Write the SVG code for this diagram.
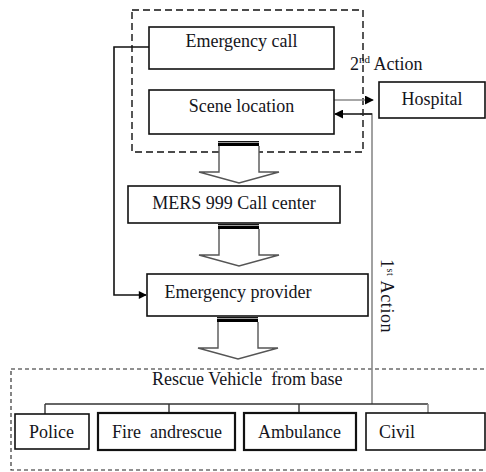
<svg xmlns="http://www.w3.org/2000/svg" width="486" height="472" viewBox="0 0 486 472">
  <style>
    .box { fill: #fff; stroke: #111; stroke-width: 1.6; }
    .thick { stroke-width: 2.2; }
    .lbl { font-family: "Liberation Serif", "Times New Roman", serif; font-size: 18px; fill: #151520; }
    .mid { text-anchor: middle; }
    .dash1 { fill: none; stroke: #111; stroke-width: 1.4; stroke-dasharray: 7 4; }
    .dash2 { fill: none; stroke: #222; stroke-width: 1.1; stroke-dasharray: 4 3; }
    .wire { fill: none; stroke: #111; stroke-width: 1.6; }
    .grey { fill: none; stroke: #8a8a8a; stroke-width: 1.6; }
    .bus { fill: none; stroke: #333; stroke-width: 1.4; }
    .block { fill: #fff; stroke: #555; stroke-width: 1.4; }
  </style>
  <defs>
    <marker id="head" viewBox="0 0 10 10" refX="9" refY="5" markerWidth="9" markerHeight="8" markerUnits="userSpaceOnUse" orient="auto">
      <path d="M0,0 L10,5 L0,10 z" fill="#000"/>
    </marker>
    <marker id="headL" viewBox="0 0 10 10" refX="9" refY="5" markerWidth="9" markerHeight="9" markerUnits="userSpaceOnUse" orient="auto">
      <path d="M0,0 L10,5 L0,10 z" fill="#000"/>
    </marker>
    <!-- hollow block arrow, drawn with its bar at the origin -->
    <g id="blockArrow">
      <path class="block" d="M1,5 L1,31 L-19,31 L21,42 L61,31 L41,31 L41,5"/>
      <rect x="0" y="0" width="41" height="5" fill="#000"/>
      <line x1="0" y1="1.4" x2="41" y2="1.4" stroke="#fff" stroke-width="0.7"/>
    </g>
  </defs>

  <!-- dashed groupings -->
  <rect class="dash1" x="132" y="10" width="231" height="142"/>
  <rect class="dash2" x="11" y="369" width="490" height="101"/>

  <g id="connectors">
    <!-- emergency call straight to the provider -->
    <polyline class="wire" points="149,47 114,47 114,295 146,295" marker-end="url(#head)"/>
    <!-- scene location to hospital (2nd action) -->
    <line class="grey" x1="334" y1="100" x2="373" y2="100" marker-end="url(#headL)"/>
    <!-- rescue vehicles back to the scene (1st action) -->
    <polyline class="grey" points="372,404 372,114 360,114"/>
    <line class="wire" x1="372" y1="114" x2="335" y2="114" marker-end="url(#headL)"/>
    <!-- vehicle bus -->
    <line class="bus" x1="45" y1="404" x2="428" y2="404"/>
    <line class="bus" x1="45" y1="404" x2="45" y2="414"/>
    <line class="bus" x1="169" y1="404" x2="169" y2="413"/>
    <line class="bus" x1="299" y1="404" x2="299" y2="413"/>
    <line class="grey" x1="428" y1="404" x2="428" y2="413" stroke-width="1.3"/>
    <!-- block arrows -->
    <use href="#blockArrow" x="218" y="141"/>
    <use href="#blockArrow" x="218" y="224"/>
    <use href="#blockArrow" x="217" y="317"/>
  </g>

  <g id="emergency-call">
    <rect class="box" x="149" y="27" width="185" height="42"/>
    <text class="lbl mid" x="241.5" y="47">Emergency call</text>
  </g>
  <g id="scene-location">
    <rect class="box" x="149" y="90" width="185" height="44"/>
    <text class="lbl mid" x="241.5" y="112">Scene location</text>
  </g>
  <g id="hospital">
    <rect class="box" x="379" y="82" width="106" height="36"/>
    <text class="lbl mid" x="432" y="105">Hospital</text>
  </g>
  <g id="call-center">
    <rect class="box" x="128" y="186" width="212" height="37"/>
    <text class="lbl mid" x="234" y="209">MERS 999 Call center</text>
  </g>
  <g id="emergency-provider">
    <rect class="box" x="147" y="274" width="221" height="42"/>
    <text class="lbl mid" x="238" y="298">Emergency provider</text>
  </g>

  <g id="rescue-vehicle">
    <text class="lbl" x="152" y="385" font-size="17.5" xml:space="preserve">Rescue Vehicle  from base</text>
  </g>
  <g id="police">
    <rect class="box" x="15" y="414" width="74" height="35"/>
    <text class="lbl" x="29" y="438" font-size="17">Police</text>
  </g>
  <g id="fire-rescue">
    <rect class="box thick" x="98" y="413" width="137" height="37"/>
    <text class="lbl" x="112" y="438" xml:space="preserve">Fire  andrescue</text>
  </g>
  <g id="ambulance">
    <rect class="box thick" x="244" y="413" width="112" height="37"/>
    <text class="lbl" x="258" y="438">Ambulance</text>
  </g>
  <g id="civil">
    <rect class="box" x="366" y="413" width="119" height="37"/>
    <text class="lbl" x="379" y="438" font-size="17">Civil</text>
  </g>

  <!-- action labels -->
  <text class="lbl" x="350" y="70" font-size="17">2<tspan font-size="11" dy="-7">nd</tspan><tspan dy="7"> Action</tspan></text>
  <text class="lbl" transform="translate(381,259) rotate(90)" font-size="16" letter-spacing="0.6">1<tspan font-size="10" dy="-6">st</tspan><tspan dy="6"> Action</tspan></text>
</svg>
